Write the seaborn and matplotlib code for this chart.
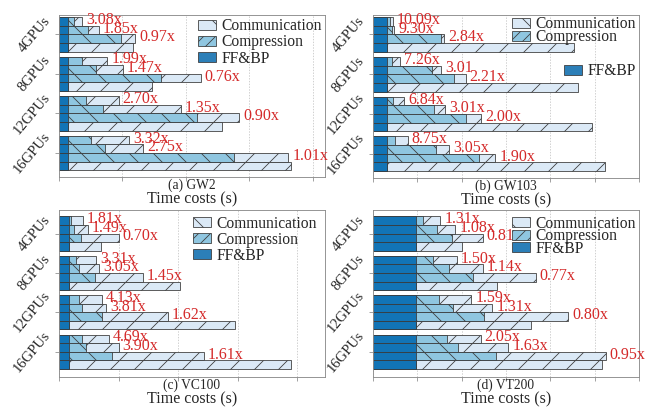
import numpy as np
import pandas as pd
import matplotlib
matplotlib.use("Agg")
import matplotlib.pyplot as plt
from matplotlib.patches import Patch
import seaborn as sns

# ---------------- data ----------------
gpus = ["4GPUs", "8GPUs", "12GPUs", "16GPUs"]
panel_titles = ["(a) GW2", "(b) GW103", "(c) VC100", "(d) VT200"]

# FF&BP time (identical for every bar of a panel)
ffbp_a = 0.14
ffbp_b = 0.32
ffbp_c = 0.16
ffbp_d = 0.97

# compression time, 4 bars per GPU group (last bar = no compression)
comp_a = [[0.09, 0.32, 0.83, 0.0], [0.22, 0.45, 1.46, 0.0], [0.29, 0.56, 2.03, 0.0], [0.36, 0.59, 2.62, 0.0]]
comp_b = [[0.06, 0.10, 1.21, 0.0], [0.10, 1.02, 1.51, 0.0], [0.14, 1.06, 1.77, 0.0], [0.18, 1.11, 2.06, 0.0]]
comp_c = [[0.05, 0.10, 0.21, 0.0], [0.12, 0.18, 0.45, 0.0], [0.17, 0.23, 0.56, 0.0], [0.23, 0.29, 0.73, 0.0]]
comp_d = [[0.16, 0.48, 0.82, 0.0], [0.38, 0.74, 1.28, 0.0], [0.52, 0.83, 1.53, 0.0], [0.69, 0.95, 1.80, 0.0]]

# communication time
comm_a = [[0.14, 0.17, 0.23, 1.03], [0.40, 0.42, 0.63, 1.33], [0.51, 1.22, 0.67, 2.42], [0.60, 0.59, 0.85, 3.51]]
comm_b = [[0.06, 0.06, 0.07, 4.21], [0.20, 0.20, 0.26, 4.30], [0.24, 0.24, 0.35, 4.62], [0.28, 0.28, 0.38, 4.92]]
comm_c = [[0.19, 0.22, 0.63, 0.54], [0.34, 0.34, 0.80, 1.88], [0.39, 0.40, 1.11, 2.80], [0.45, 0.55, 1.54, 3.74]]
comm_d = [[0.39, 0.41, 0.68, 1.03], [0.54, 0.76, 1.42, 1.83], [0.73, 0.89, 1.90, 2.59], [0.77, 1.13, 2.48, 4.20]]

# speed-up annotations
speedup_a = [["3.08x", "1.85x", "0.97x"], ["1.99x", "1.47x", "0.76x"], ["2.70x", "1.35x", "0.90x"], ["3.32x", "2.75x", "1.01x"]]
speedup_b = [["10.09x", "9.30x", "2.84x"], ["7.26x", "3.01", "2.21x"], ["6.84x", "3.01x", "2.00x"], ["8.75x", "3.05x", "1.90x"]]
speedup_c = [["1.81x", "1.49x", "0.70x"], ["3.31x", "3.05x", "1.45x"], ["4.13x", "3.81x", "1.62x"], ["4.69x", "3.90x", "1.61x"]]
speedup_d = [["1.31x", "1.08x", "0.81x"], ["1.50x", "1.14x", "0.77x"], ["1.59x", "1.31x", "0.80x"], ["2.05x", "1.63x", "0.95x"]]

xmax = [4.19, 6.0, 4.47, 6.0]

# ---------------- style ----------------
sns.set_theme(style="ticks")
plt.rcParams["font.family"] = ["Liberation Serif", "DejaVu Serif"]
plt.rcParams["hatch.linewidth"] = 0.8
plt.rcParams["hatch.color"] = "#3a3a3a"

C_COMM = "#dbe9f6"
C_COMP = "#8fc6e0"
C_FF = "#1274b6"
C_FF_LEG = "#2c7fb8"
EDGE = "#3a3a3a"
RED = "#d42a2a"
SPINE = "#8c8c8c"

W, H = 652, 416
fig = plt.figure(figsize=(W / 72, H / 72), dpi=72)

# axes boxes in pixels: left, top, right, bottom
boxes = [(59, 15, 325, 177), (373, 15, 639, 178), (59, 210, 325, 377), (373, 210, 639, 377)]
ylims = [(18.1, -0.75), (18.1, -0.75), (18.25, -1.25), (18.25, -1.25)]

ffbps = [ffbp_a, ffbp_b, ffbp_c, ffbp_d]
comps = [comp_a, comp_b, comp_c, comp_d]
comms = [comm_a, comm_b, comm_c, comm_d]
speeds = [speedup_a, speedup_b, speedup_c, speedup_d]

GAP = 4.6

for i in range(4):
    l, t, r, b = boxes[i]
    ax = fig.add_axes([l / W, 1 - b / H, (r - l) / W, (b - t) / H])
    ff, comp, comm, sp = ffbps[i], comps[i], comms[i], speeds[i]
    rows = []
    for g in range(4):
        for k in range(4):
            pos = g * GAP + k
            rows.append(dict(pos=pos, ff=ff, comp_end=ff + comp[g][k],
                             total=ff + comp[g][k] + comm[g][k]))
    df = pd.DataFrame(rows)
    common = dict(data=df, y="pos", orient="y", native_scale=True, width=1,
                  saturation=1, errorbar=None, edgecolor=EDGE, linewidth=0.8, ax=ax)
    sns.barplot(x="total", color=C_COMM, hatch="/", **common)
    sns.barplot(x="comp_end", color=C_COMP, hatch="\\", **common)
    sns.barplot(x="ff", color=C_FF, **common)

    # speed-up labels
    for g in range(4):
        for k in range(3):
            row = df.iloc[g * 4 + k]
            ax.annotate(sp[g][k], xy=(row["total"], row["pos"]), xytext=(4, 1.5),
                        textcoords="offset points", ha="left", va="center",
                        color=RED, fontsize=16)

    ax.set_xlim(0, xmax[i])
    ax.set_ylim(*ylims[i])
    ax.set_xticks(np.arange(0, int(xmax[i]) + 1))
    ax.set_xticklabels([])
    ax.set_yticks([g * GAP + 1.5 for g in range(4)])
    ax.set_yticklabels(gpus, rotation=50, fontsize=14.5, va="center", ha="right")
    ax.tick_params(axis="both", length=4, width=0.8, color=SPINE, pad=2)
    ax.grid(axis="x", color="#bdbdbd", linestyle=(0, (2, 2)), linewidth=0.7)
    ax.set_axisbelow(True)
    for s in ax.spines.values():
        s.set_color(SPINE)
        s.set_linewidth(0.9)
    ax.set_ylabel("")
    hpx = b - t
    ax.set_xlabel("Time costs (s)", fontsize=16)
    ax.xaxis.set_label_coords(0.5, -(191.5 - 177) / hpx)
    ax.text(0.5, -(185 - 177) / hpx, panel_titles[i], transform=ax.transAxes,
            ha="center", va="center", fontsize=13.5)

    h_comm = Patch(facecolor=C_COMM, edgecolor=EDGE, hatch="\\", linewidth=0.8, label="Communication")
    h_comp = Patch(facecolor=C_COMP, edgecolor=EDGE, hatch="//", linewidth=0.8, label="Compression")
    h_ff = Patch(facecolor=C_FF_LEG, edgecolor=EDGE, linewidth=0.8, label="FF&BP")
    leg_kw = dict(frameon=False, fontsize=15.5, handlelength=1.15, handleheight=0.6,
                  handletextpad=0.35, borderaxespad=0.1, borderpad=0.1)
    if i == 0:
        ax.legend(handles=[h_comm, h_comp, h_ff], loc="upper right", bbox_to_anchor=(1.0, 1.0),
                  labelspacing=0.02, **leg_kw)
    elif i == 2:
        ax.legend(handles=[h_comm, h_comp, h_ff], loc="upper right", bbox_to_anchor=(0.98, 0.985),
                  labelspacing=0.0, **leg_kw)
    elif i == 1:
        leg1 = ax.legend(handles=[h_comm, h_comp], loc="upper right", bbox_to_anchor=(1.0, 1.01),
                         labelspacing=-0.2, **leg_kw)
        ax.add_artist(leg1)
        ax.legend(handles=[h_ff], loc="center right", bbox_to_anchor=(1.0, 0.655), **leg_kw)
    else:
        ax.legend(handles=[h_comm, h_comp, h_ff], loc="upper right", bbox_to_anchor=(1.0, 0.985),
                  labelspacing=-0.22, **leg_kw)

fig.savefig("out.png", dpi=72)
